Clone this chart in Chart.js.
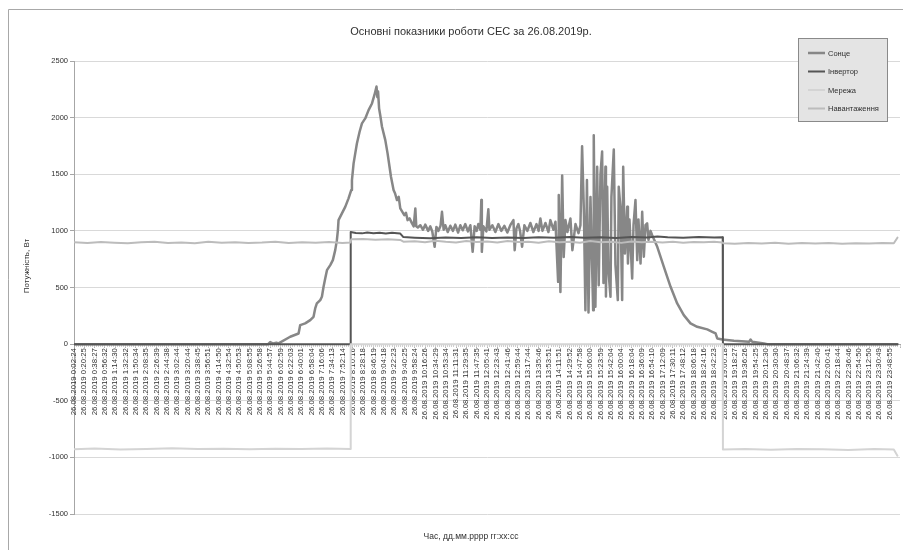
<!DOCTYPE html>
<html lang="uk">
<head>
<meta charset="utf-8">
<title>Основні показники роботи СЕС</title>
<script src="https://cdn.jsdelivr.net/npm/chart.js@4.4.1/dist/chart.umd.min.js"></script>
<style>
  html, body { margin: 0; padding: 0; background: #fff; }
  #wrap { position: relative; width: 903px; height: 550px; }
</style>
</head>
<body>
<div id="wrap"><canvas id="sesChart"></canvas></div>
<script>
// СЕС, добовий графік 26.08.2019
// x = номер підпису на осі часу (0 = 0:02:24, 79 = 23:48:55), y = Вт

var DATE_PREFIX = '26.08.2019 ';

var tickTimes = [
  '0:02:24', '0:20:25', '0:38:27', '0:56:32', '1:14:30', '1:32:32', '1:50:34', '2:08:35', '2:26:39', '2:44:38',
  '3:02:44', '3:20:44', '3:38:45', '3:56:51', '4:14:50', '4:32:54', '4:50:53', '5:08:55', '5:26:58', '5:44:57',
  '6:02:59', '6:22:03', '6:40:01', '6:58:04', '7:16:06', '7:34:13', '7:52:14', '8:10:16', '8:28:18', '8:46:19',
  '9:04:18', '9:22:23', '9:40:25', '9:58:24', '10:16:26', '10:34:29', '10:53:34', '11:11:31', '11:29:35', '11:47:35',
  '12:05:41', '12:23:43', '12:41:46', '12:59:44', '13:17:44', '13:35:46', '13:53:51', '14:11:51', '14:29:52', '14:47:58',
  '15:06:00', '15:23:59', '15:42:04', '16:00:04', '16:18:04', '16:36:09', '16:54:10', '17:12:09', '17:30:11', '17:48:12',
  '18:06:18', '18:24:16', '18:42:23', '19:00:18', '19:18:27', '19:36:26', '19:54:25', '20:12:30', '20:30:30', '20:48:37',
  '21:06:32', '21:24:39', '21:42:40', '22:00:41', '22:18:44', '22:36:46', '22:54:50', '23:12:50', '23:30:49', '23:48:55'
];

var yTicks = [-1500, -1000, -500, 0, 500, 1000, 1500, 2000, 2500];

var seriesNames = ['Сонце', 'Інвертор', 'Мережа', 'Навантаження'];

// Сонце: [позиція, Вт]
var sunPoints = [
  [0, 0], [18.8, 0], [19.0, 18], [19.3, 5], [19.6, 12], [19.81, 6], [20.94, 65], [21.75, 94], [21.91, 168],
  [22.39, 183], [22.88, 212], [23.2, 241], [23.36, 315], [23.52, 359], [23.85, 389], [24.01, 418], [24.17, 506],
  [24.33, 580], [24.5, 653], [24.82, 698], [25.07, 742], [25.3, 830], [25.46, 918], [25.56, 1007], [25.62, 1095],
  [25.95, 1154], [26.27, 1212], [26.59, 1287], [26.85, 1360], [26.92, 1448], [27.08, 1596], [27.24, 1684],
  [27.4, 1772], [27.66, 1875], [27.89, 1949], [28.21, 1993], [28.53, 2066], [28.86, 2125], [29.1, 2200],
  [29.3, 2275], [29.38, 2180], [29.45, 2230], [29.55, 2080], [29.66, 2022], [29.83, 1919], [30.15, 1801],
  [30.37, 1684], [30.56, 1566], [30.7, 1478], [30.95, 1360], [31.1, 1330], [31.28, 1272], [31.45, 1300],
  [31.6, 1198], [31.99, 1139], [32.15, 1160], [32.31, 1095], [32.5, 1110], [32.74, 1066], [32.9, 1040],
  [33.06, 1198], [33.15, 1040], [33.3, 1030], [33.54, 1050], [33.8, 1010], [34.02, 1055], [34.3, 1000],
  [34.51, 1040], [34.7, 995], [34.93, 859], [35.1, 1035], [35.3, 1000], [35.5, 1045], [35.64, 1168],
  [35.8, 1010], [35.96, 1050], [36.2, 990], [36.45, 1045], [36.7, 1000], [36.93, 1055], [37.2, 985],
  [37.42, 1050], [37.65, 1005], [37.9, 1060], [38.15, 995], [38.39, 1050], [38.61, 815], [38.8, 1040],
  [39.0, 1000], [39.16, 1060], [39.36, 1010], [39.45, 1272], [39.5, 815], [39.65, 1040], [39.94, 995],
  [40.13, 1190], [40.23, 1010], [40.52, 1050], [40.81, 990], [41.1, 1060], [41.39, 1000], [41.68, 1045],
  [41.97, 985], [42.26, 1050], [42.56, 1095], [42.68, 830], [42.85, 1020], [43.04, 1060], [43.2, 1000],
  [43.4, 860], [43.62, 1050], [43.91, 1000], [44.2, 1070], [44.49, 990], [44.79, 1060], [45.0, 1000],
  [45.17, 1110], [45.37, 1000], [45.66, 1070], [45.95, 990], [46.14, 1095], [46.43, 1010], [46.63, 1080],
  [46.89, 550], [46.95, 1316], [47.11, 460], [47.28, 1490], [47.43, 770], [47.6, 1095], [47.79, 990],
  [48.08, 1110], [48.27, 830], [48.57, 1060], [48.86, 980], [49.05, 1050], [49.21, 1748], [49.39, 1150],
  [49.53, 300], [49.68, 1450], [49.83, 280], [50.02, 1300], [50.28, 300], [50.34, 1845], [50.5, 330],
  [50.67, 1566], [50.82, 520], [50.99, 1500], [51.15, 1700], [51.28, 540], [51.47, 1566], [51.52, 420],
  [51.64, 1390], [51.76, 650], [51.96, 418], [52.05, 1300], [52.28, 1719], [52.44, 700], [52.67, 389],
  [52.76, 1389], [52.93, 1200], [53.09, 389], [53.19, 1566], [53.36, 800], [53.58, 1212], [53.65, 712],
  [53.8, 1100], [54.06, 580], [54.19, 1050], [54.38, 1272], [54.55, 742], [54.67, 1100], [54.87, 713],
  [55.03, 1168], [55.19, 771], [55.35, 1050], [55.51, 1066], [55.64, 920], [55.84, 1000], [56.0, 962],
  [56.49, 859], [57.13, 682], [57.78, 506], [58.42, 359], [59.06, 256], [59.71, 183], [60.36, 153],
  [61.33, 130], [61.82, 109], [62.14, 94], [62.3, 50], [62.79, 41], [63.91, 29], [65.4, 22], [65.53, 41],
  [65.69, 20], [66.82, 6], [67.15, 0], [79.75, 0]
];

var inverterPoints = [
  [0, 0], [26.78, 0], [26.8, 990], [27.3, 982], [27.9, 978], [28.4, 985], [29.0, 980], [29.6, 984],
  [30.2, 977], [30.8, 983], [31.3, 979], [31.6, 976], [31.9, 945], [33, 940], [34.5, 935], [36, 942],
  [37.5, 937], [39, 944], [40.5, 938], [42, 941], [43.5, 936], [45, 943], [46.5, 939], [48, 945],
  [49.5, 940], [51, 944], [52.5, 938], [54, 946], [55.5, 942], [56.5, 950], [57.5, 944], [59, 940],
  [60.5, 945], [62, 941], [62.83, 943], [62.85, 0], [79.75, 0]
];

var gridPoints = [
  [0, -928], [2, -922], [4.5, -930], [7, -925], [9.5, -920], [12, -927], [14.5, -923], [17, -929],
  [19.5, -924], [22, -926], [24.5, -921], [26.78, -925], [26.8, 0], [62.83, 0], [62.85, -930],
  [65, -926], [67.5, -932], [70, -925], [72.5, -929], [75, -934], [77.5, -927], [79.4, -930], [79.75, -985]
];

var loadPoints = [
  [0, 900], [1.3, 893], [2.6, 902], [3.9, 896], [5.2, 890], [6.5, 899], [7.8, 904], [9.1, 894],
  [10.4, 898], [11.7, 891], [13, 903], [14.3, 895], [15.6, 900], [16.9, 892], [18.2, 897], [19.5, 905],
  [20.8, 893], [22.1, 899], [23.4, 896], [24.7, 902], [26, 894], [26.78, 898], [26.85, 925], [28, 928],
  [29.2, 922], [30.4, 926], [31.6, 920], [31.9, 905], [33, 908], [34, 900], [35, 912], [36, 903],
  [37, 898], [38, 910], [39, 902], [40, 906], [41, 897], [42, 911], [43, 901], [44, 904], [45, 896],
  [46, 908], [47, 900], [48, 905], [49, 895], [50, 910], [51, 899], [52, 903], [53, 894], [54, 907],
  [55, 900], [56, 905], [57, 898], [58, 903], [59, 896], [60, 902], [61, 899], [62, 904], [62.8, 897],
  [62.9, 890], [64, 886], [65.3, 893], [66.6, 888], [67.9, 895], [69.2, 887], [70.5, 892], [71.8, 889],
  [73.1, 894], [74.4, 886], [75.7, 891], [77, 888], [78.3, 893], [79.4, 890], [79.75, 940]
];

(function () {
  'use strict';

  var FONT = '"Liberation Sans", Arial, sans-serif';
  var TEXT = '#303030';
  var FRAME_COLOR = '#a8a8a8';
  var COLORS = ['#878787', '#555555', '#d4d4d4', '#bcbcbc'];
  var WIDTHS = [2.5, 2, 2, 2];

  function toXY(points) {
    return points.map(function (p) { return { x: p[0], y: p[1] }; });
  }

  // позиційована вісь X не повинна стискати область графіка
  function noSidePadding(scale) {
    scale.paddingLeft = 0;
    scale.paddingRight = 0;
  }

  // рамка, підпис осі Y, легенда
  var decorPlugin = {
    id: 'decor',
    beforeDraw: function (chart) {
      var ctx = chart.ctx;
      ctx.save();
      ctx.fillStyle = '#fff';
      ctx.fillRect(0, 0, chart.width, chart.height);
      ctx.strokeStyle = FRAME_COLOR;
      ctx.lineWidth = 1;
      ctx.beginPath();
      ctx.moveTo(8.5, chart.height);
      ctx.lineTo(8.5, 9.5);
      ctx.lineTo(chart.width, 9.5);
      ctx.stroke();
      ctx.restore();
    },
    afterDraw: function (chart) {
      var ctx = chart.ctx;
      ctx.save();

      // Потужність, Вт
      ctx.translate(27, 266);
      ctx.rotate(-Math.PI / 2);
      ctx.font = '8px ' + FONT;
      ctx.fillStyle = TEXT;
      ctx.textAlign = 'center';
      ctx.textBaseline = 'middle';
      ctx.fillText('Потужність, Вт', 0, 0);
      ctx.setTransform(1, 0, 0, 1, 0, 0);

      // легенда
      var bx = 798.5, by = 38.5, bw = 89, bh = 83;
      ctx.fillStyle = '#e4e4e4';
      ctx.fillRect(bx, by, bw, bh);
      ctx.strokeStyle = '#8a8a8a';
      ctx.lineWidth = 1;
      ctx.strokeRect(bx, by, bw, bh);
      var rows = [53, 71.5, 90, 108.5];
      ctx.font = '7.5px ' + FONT;
      ctx.textAlign = 'left';
      ctx.textBaseline = 'middle';
      chart.data.datasets.forEach(function (ds, i) {
        ctx.strokeStyle = ds.borderColor;
        ctx.lineWidth = ds.borderWidth;
        ctx.beginPath();
        ctx.moveTo(808, rows[i]);
        ctx.lineTo(825, rows[i]);
        ctx.stroke();
        ctx.fillStyle = TEXT;
        ctx.fillText(ds.label, 828, rows[i] + 0.5);
      });
      ctx.restore();
    }
  };

  var datasets = [sunPoints, inverterPoints, gridPoints, loadPoints].map(function (pts, i) {
    return {
      label: seriesNames[i],
      data: toXY(pts),
      borderColor: COLORS[i],
      backgroundColor: COLORS[i],
      borderWidth: WIDTHS[i],
      pointRadius: 0,
      tension: 0,
      fill: false,
      xAxisID: 'x',
      yAxisID: 'y',
      order: 4 - i
    };
  });

  new Chart(document.getElementById('sesChart'), {
    type: 'line',
    data: { datasets: datasets },
    plugins: [decorPlugin],
    options: {
      responsive: true,
      maintainAspectRatio: false,
      animation: false,
      layout: { padding: { left: 42, right: 3, top: 10, bottom: 4 } },
      elements: { line: { borderJoinStyle: 'round', borderCapStyle: 'round' } },
      plugins: {
        legend: { display: false },
        tooltip: { enabled: false },
        title: {
          display: true,
          text: 'Основні показники роботи СЕС за 26.08.2019р.',
          color: TEXT,
          font: { family: FONT, size: 11, weight: 'normal' },
          padding: { top: 15.5, bottom: 22.3 }
        },
        subtitle: {
          display: true,
          position: 'bottom',
          text: 'Час, дд.мм.рррр гг:хх:сс',
          color: TEXT,
          font: { family: FONT, size: 8.5, weight: 'normal' },
          padding: { top: 17.9, bottom: 3.9 }
        }
      },
      scales: {
        y: {
          type: 'linear',
          position: 'left',
          min: yTicks[0],
          max: yTicks[yTicks.length - 1],
          afterFit: function (scale) { scale.width = 32; },
          afterBuildTicks: function (scale) {
            scale.ticks = yTicks.map(function (v) { return { value: v }; });
          },
          ticks: {
            color: TEXT,
            font: { family: FONT, size: 7.5 },
            padding: 2,
            callback: function (v) { return String(v); }
          },
          grid: { color: '#d9d9d9', tickColor: '#a6a6a6', tickLength: 4, lineWidth: 1 },
          border: { color: '#a6a6a6', width: 1 }
        },
        x: {
          type: 'linear',
          position: { y: 0 },
          min: 0,
          max: 80,
          afterFit: noSidePadding,
          ticks: {
            stepSize: 1,
            autoSkip: false,
            minRotation: 90,
            maxRotation: 90,
            padding: 1,
            color: TEXT,
            font: { family: FONT, size: 7.8 },
            callback: function (v) {
              var k = Math.round(v);
              if (Math.abs(v - k) > 1e-6 || k < 0 || k >= tickTimes.length) return '';
              return DATE_PREFIX + tickTimes[k];
            }
          },
          grid: { drawOnChartArea: false, tickLength: 3, color: '#b4b4b4' },
          border: { color: '#a6a6a6', width: 1 }
        },
        xMinor: {
          type: 'linear',
          axis: 'x',
          position: { y: 0 },
          min: 0,
          max: 80,
          afterFit: noSidePadding,
          ticks: { display: false, stepSize: 0.2 },
          grid: { drawOnChartArea: false, tickLength: 3, color: '#cfcfcf' },
          border: { display: false }
        }
      }
    }
  });
})();
</script>
</body>
</html>
